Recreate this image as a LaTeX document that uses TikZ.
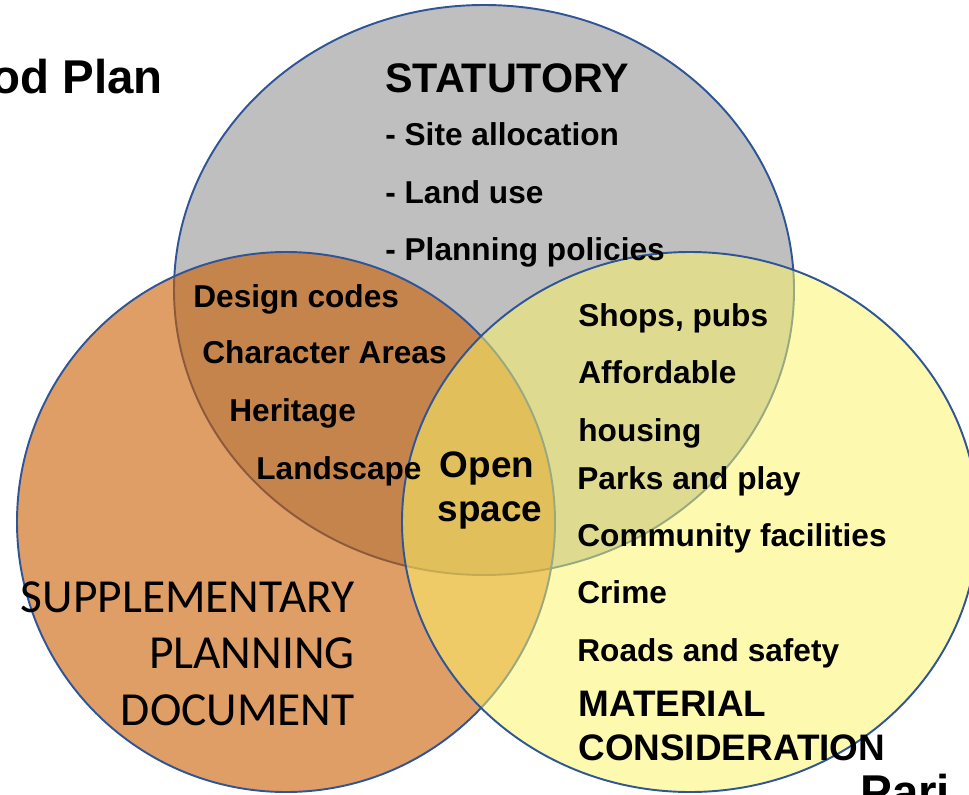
\documentclass[tikz,border=0pt]{standalone}
\usepackage{fontspec}
\setmainfont{Liberation Sans}
\newfontfamily\spdfont{Carlito}
\usetikzlibrary{positioning}
\definecolor{ring_blue}{RGB}{47,85,151}
\definecolor{stat_gray}{RGB}{191,191,191}
\definecolor{spd_orange}{RGB}{202,93,0}
\definecolor{mat_yellow}{RGB}{252,246,104}

\begin{document}
\begin{tikzpicture}
    [
        x=0.02cm, y=-0.02cm,
        gray_set/.style={draw=ring_blue, line width=1.1pt, fill=stat_gray},
        orange_set/.style={draw=ring_blue, line width=1.1pt, fill=spd_orange, fill opacity=0.6},
        yellow_set/.style={draw=ring_blue, line width=1.1pt, fill=mat_yellow, fill opacity=0.52},
        item_text/.style={anchor=base west, inner sep=0pt, font=\fontsize{18}{21}\selectfont\bfseries},
        head_text/.style={anchor=base west, inner sep=0pt, font=\fontsize{21}{24}\selectfont\bfseries},
        spd_text/.style={anchor=base east, inner sep=0pt, font=\spdfont\fontsize{27}{31}\selectfont},
        edge_text/.style={inner sep=0pt, font=\fontsize{27}{31}\selectfont\bfseries},
    ]

  \useasboundingbox (0,0) rectangle (969,794);

  \draw[gray_set] (484,290) ellipse [x radius=310, y radius=285];
  \draw[orange_set] (286,522) ellipse [x radius=269, y radius=270];
  \draw[yellow_set] (690,522) ellipse [x radius=288, y radius=270];

  \node[edge_text, anchor=base east] (plan) at (163,93) {od Plan};
  \node[edge_text, anchor=base west] (pari) at (860,808) {Pari};

  \node[item_text, font=\fontsize{23.5}{27}\selectfont\bfseries] (stat) at (385,92) {STATUTORY};
  \node[item_text] (s1) at (385,145) {- Site allocation};
  \node[item_text] (s2) at (385,203) {- Land use};
  \node[item_text] (s3) at (385,260) {- Planning policies};

  \node[item_text] (o1) at (193,307) {Design codes};
  \node[item_text] (o2) at (202,363) {Character Areas};
  \node[item_text] (o3) at (229,421) {Heritage};
  \node[item_text] (o4) at (256,479) {Landscape};

  \node[item_text, anchor=base, font=\fontsize{21}{24}\selectfont\bfseries] (open1) at (487,477) {Open};
  \node[item_text, anchor=base, font=\fontsize{21}{24}\selectfont\bfseries] (open2) at (490,521) {space};

  \node[item_text] (y1) at (578,326) {Shops, pubs};
  \node[item_text] (y2) at (578,383) {Affordable};
  \node[item_text] (y3) at (578,441) {housing};
  \node[item_text] (y4) at (577,489) {Parks and play};
  \node[item_text] (y5) at (577,546) {Community facilities};
  \node[item_text] (y6) at (577,603) {Crime};
  \node[item_text] (y7) at (577,661) {Roads and safety};
  \node[head_text] (mat1) at (578,716) {MATERIAL};
  \node[head_text] (mat2) at (578,760) {CONSIDERATION};

  \node[spd_text] (spd1) at (355,612) {SUPPLEMENTARY};
  \node[spd_text] (spd2) at (355,668) {PLANNING};
  \node[spd_text] (spd3) at (355,725) {DOCUMENT};
\end{tikzpicture}
\end{document}
